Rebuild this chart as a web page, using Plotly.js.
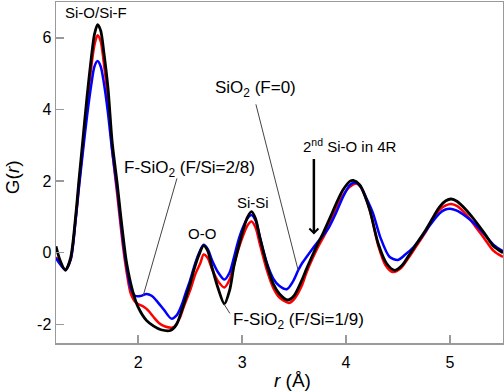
<!DOCTYPE html>
<html><head><meta charset="utf-8">
<script src="https://cdn.plot.ly/plotly-3.0.1.min.js"></script>
<style>html,body{margin:0;padding:0;background:#fff}#chart{width:504px;height:392px}</style>
</head><body><div id="chart"></div>
<script>
// SiO2 (F=0) — black
const rBlack = [1.21,1.25,1.30,1.35,1.40,1.43,1.47,1.51,1.55,1.58,1.61,1.64,1.67,1.71,1.75,1.80,1.83,1.86,1.89,1.95,2.00,2.08,2.15,2.22,2.31,2.37,2.42,2.46,2.50,2.54,2.58,2.63,2.67,2.71,2.77,2.83,2.88,2.92,2.96,3.00,3.05,3.09,3.13,3.17,3.24,3.30,3.36,3.44,3.50,3.57,3.62,3.67,3.72,3.78,3.85,3.91,3.97,4.04,4.07,4.13,4.18,4.23,4.31,4.39,4.47,4.54,4.61,4.69,4.77,4.84,4.90,4.96,5.01,5.07,5.16,5.24,5.33,5.42,5.51];
const gBlack = [0.18,-0.22,-0.49,-0.15,1.05,2.0,3.2,4.4,5.45,6.1,6.37,6.2,5.6,4.6,3.1,1.9,1.1,0.35,-0.3,-1.1,-1.52,-1.89,-2.05,-2.15,-2.17,-2.0,-1.61,-1.25,-0.87,-0.45,-0.1,0.2,0.05,-0.4,-1.0,-1.43,-1.05,-0.4,0.1,0.53,0.98,1.15,0.95,0.44,-0.35,-0.87,-1.15,-1.32,-1.2,-0.8,-0.45,-0.12,0.2,0.55,1.0,1.4,1.75,2.0,2.02,1.9,1.6,1.18,0.25,-0.3,-0.49,-0.35,-0.05,0.3,0.65,1.0,1.28,1.45,1.5,1.43,1.18,0.9,0.55,0.18,0.0];
// F-SiO2 (F/Si=1/9) — red
const rRed = [1.21,1.25,1.30,1.35,1.40,1.43,1.47,1.51,1.55,1.58,1.61,1.64,1.67,1.71,1.75,1.80,1.83,1.86,1.89,1.93,1.98,2.05,2.10,2.15,2.20,2.26,2.34,2.40,2.44,2.50,2.55,2.60,2.63,2.67,2.71,2.77,2.83,2.88,2.92,2.96,3.00,3.05,3.09,3.13,3.17,3.24,3.30,3.36,3.45,3.50,3.57,3.62,3.67,3.72,3.80,3.85,3.91,3.97,4.04,4.10,4.15,4.20,4.25,4.31,4.38,4.45,4.52,4.60,4.68,4.77,4.84,4.90,4.96,5.01,5.07,5.16,5.24,5.33,5.42,5.51];
const gRed = [-0.12,-0.3,-0.47,-0.2,0.95,1.85,3.0,4.15,5.2,5.8,6.07,5.9,5.3,4.3,2.9,1.6,0.8,0.05,-0.55,-1.15,-1.4,-1.5,-1.62,-1.8,-1.96,-2.06,-2.08,-1.82,-1.5,-1.05,-0.6,-0.28,-0.05,-0.15,-0.45,-0.8,-0.97,-0.75,-0.35,0.05,0.4,0.75,0.87,0.7,0.25,-0.5,-0.98,-1.25,-1.4,-1.3,-0.95,-0.55,-0.21,0.1,0.53,0.85,1.25,1.6,1.85,1.93,1.8,1.45,0.95,0.2,-0.35,-0.54,-0.45,-0.15,0.2,0.6,0.95,1.2,1.32,1.36,1.3,1.05,0.75,0.4,0.05,-0.12];
// F-SiO2 (F/Si=2/8) — blue
const rBlue = [1.21,1.25,1.30,1.35,1.40,1.43,1.47,1.51,1.55,1.58,1.61,1.64,1.67,1.71,1.75,1.80,1.83,1.86,1.89,1.93,1.97,2.02,2.08,2.13,2.18,2.25,2.32,2.37,2.42,2.46,2.50,2.54,2.58,2.63,2.67,2.71,2.77,2.83,2.88,2.92,2.96,3.00,3.05,3.09,3.13,3.17,3.24,3.30,3.36,3.43,3.49,3.54,3.58,3.62,3.69,3.77,3.83,3.91,3.97,4.04,4.09,4.14,4.20,4.26,4.33,4.42,4.50,4.57,4.65,4.73,4.81,4.90,4.95,5.00,5.06,5.16,5.24,5.33,5.42,5.51];
const gBlue = [-0.15,-0.32,-0.47,-0.2,0.95,1.8,2.85,3.85,4.7,5.2,5.35,5.2,4.75,3.9,2.85,1.75,0.95,0.2,-0.4,-1.0,-1.2,-1.21,-1.15,-1.2,-1.35,-1.6,-1.84,-1.75,-1.45,-1.1,-0.77,-0.38,-0.05,0.22,0.1,-0.2,-0.55,-0.75,-0.55,-0.15,0.3,0.65,0.95,1.05,0.9,0.45,-0.3,-0.72,-0.93,-1.02,-0.8,-0.49,-0.28,-0.12,0.16,0.45,0.68,1.15,1.55,1.9,1.96,1.85,1.5,1.1,0.43,-0.12,-0.2,-0.05,0.16,0.45,0.78,1.1,1.2,1.23,1.18,1.0,0.8,0.52,0.22,0.04];

const xTicks = [2,3,4,5];
const yTicks = [-2,0,2,4,6];

const FONT = 'Liberation Sans, Arial, sans-serif';
const ln = (c,w) => ({color:c, width:w, shape:'spline', smoothing:0.8});
const traces = [
  {x:rRed, y:gRed, mode:'lines', line:ln('#ff0000',2.5), name:'F/Si=1/9'},
  {x:rBlue, y:gBlue, mode:'lines', line:ln('#0000ff',2.5), name:'F/Si=2/8'},
  {x:rBlack, y:gBlack, mode:'lines', line:ln('#000000',2.8), name:'F=0'}
];
const ann = (text,x,y,size) => ({text, x, y, xref:'x', yref:'y', showarrow:false, font:{family:FONT,size:size,color:'#000'}, xanchor:'center', yanchor:'middle'});
// helper: pixel positions converted to data coords
const px2x = p => 1.21 + (p-56)/104;
const py2y = p => (252.3-p)/35.8;
const annotations = [
  ann('Si-O/Si-F', px2x(96.5), py2y(12), 15),
  ann('SiO<sub>2</sub> (F=0)', px2x(256), py2y(89), 17),
  ann('F-SiO<sub>2</sub> (F/Si=2/8)', px2x(189.5), py2y(169), 17),
  ann('2<sup>nd</sup> Si-O in 4R', px2x(350.5), py2y(145), 15),
  ann('O-O', px2x(202.5), py2y(233), 15),
  ann('Si-Si', px2x(253.5), py2y(202), 15),
  ann('F-SiO<sub>2</sub> (F/Si=1/9)', px2x(299), py2y(321), 17),
  {text:'', x:px2x(314), y:py2y(234), xref:'x', yref:'y', showarrow:true, ax:0, ay:-77,
   arrowhead:4, arrowsize:0.7, arrowwidth:2.5, arrowcolor:'#000', standoff:0},
  {text:'<i>r</i> (Å)', xref:'paper', yref:'paper', x:(292-56)/446.7, y:0, yshift:-37, showarrow:false,
   xanchor:'center', yanchor:'middle', font:{family:FONT,size:19,color:'#000'}},
  {text:'G(<i>r</i>)', xref:'paper', yref:'paper', x:0, xshift:-44, y:(342.7-177)/340.7, showarrow:false,
   textangle:-90, xanchor:'center', yanchor:'middle', font:{family:FONT,size:19,color:'#000'}}
];
const seg = (x0,y0,x1,y1) => ({type:'line', xref:'x', yref:'y', x0:px2x(x0), y0:py2y(y0), x1:px2x(x1), y1:py2y(y1), line:{color:'#444', width:1}});
const shapes = [
  seg(177,178,143.3,295),
  seg(256,104,298.3,270),
  seg(230,313,224,303.5)
];
const axisCommon = {showgrid:false, zeroline:false, showline:true, mirror:true, linecolor:'#999', linewidth:1.5,
  ticks:'inside', ticklen:8, tickwidth:1.5, tickcolor:'#999', tickfont:{family:FONT,size:16,color:'#000'}};
const layout = {
  width:504, height:392, margin:{l:56, r:1, t:2, b:49},
  paper_bgcolor:'#fff', plot_bgcolor:'#fff', showlegend:false,
  xaxis:Object.assign({}, axisCommon, {range:[1.21,5.51], tickvals:xTicks, ticktext:xTicks.map(String), ticklabelstandoff:4}),
  yaxis:Object.assign({}, axisCommon, {range:[-2.52,7.0], tickvals:yTicks, ticktext:yTicks.map(String)}),
  annotations, shapes
};
Plotly.newPlot('chart', traces, layout, {staticPlot:true});
</script></body></html>
